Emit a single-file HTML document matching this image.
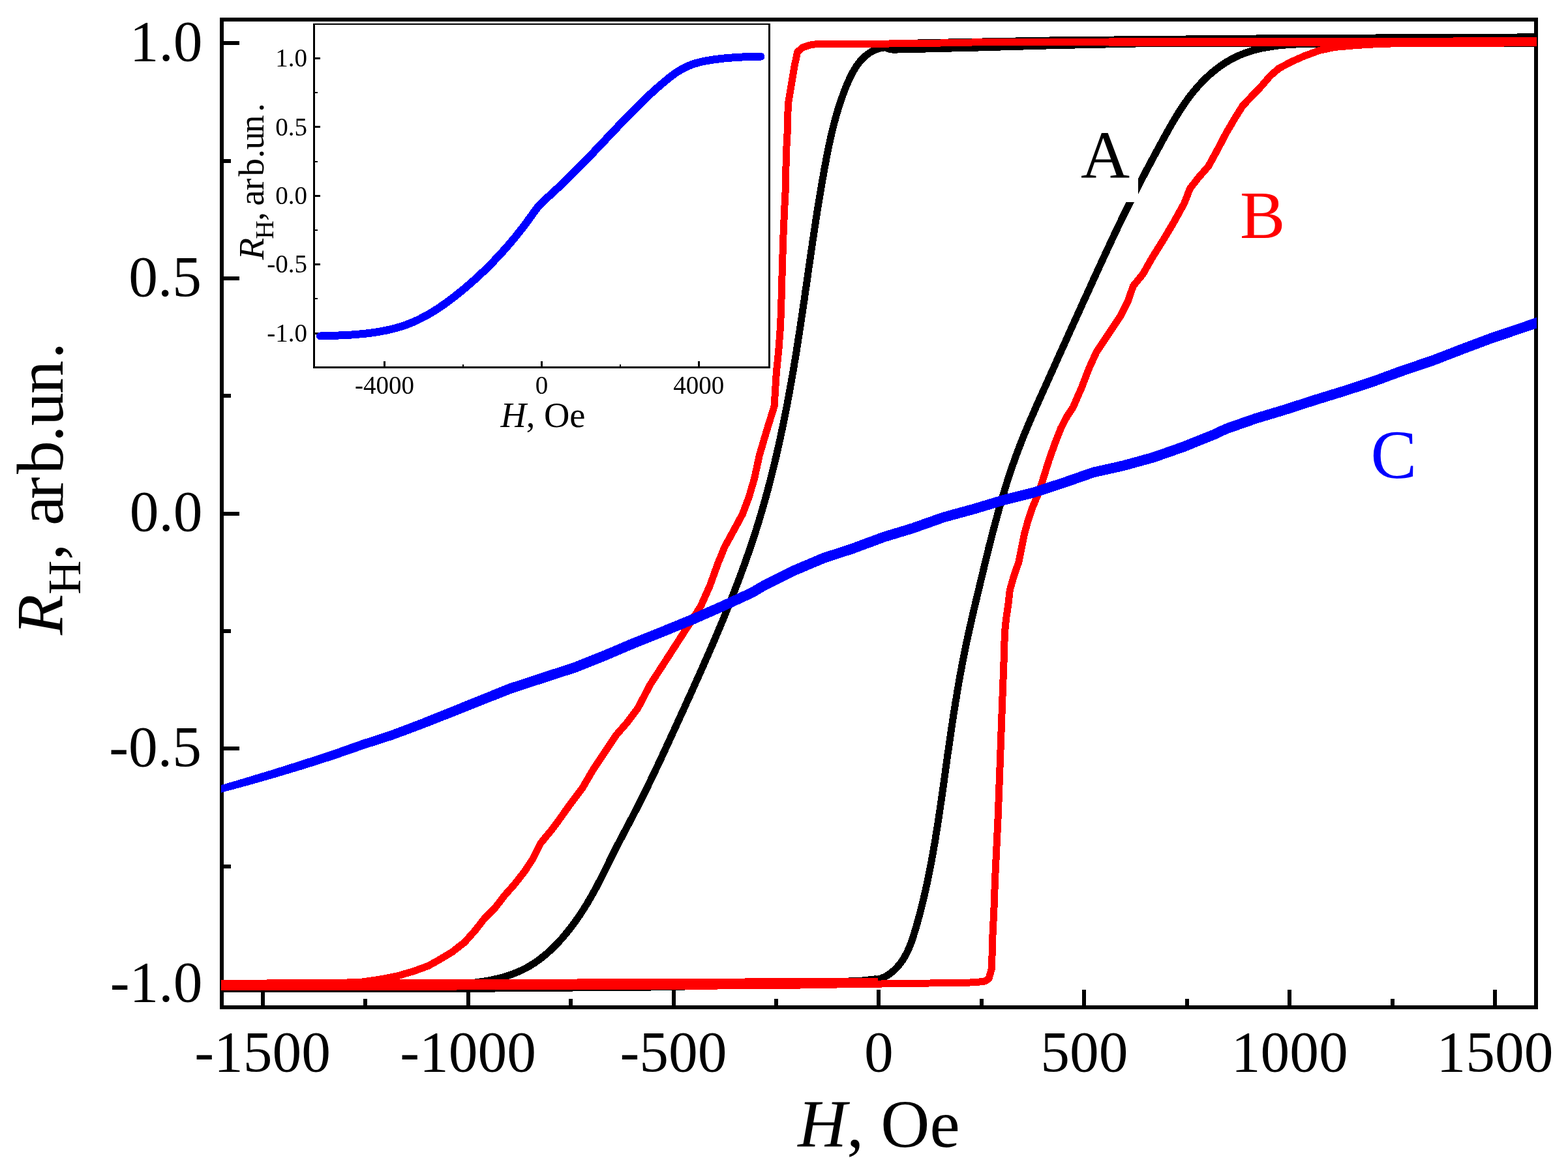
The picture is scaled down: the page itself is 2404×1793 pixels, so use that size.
<!DOCTYPE html>
<html lang="en"><head><meta charset="utf-8"><title>Hall resistance hysteresis loops</title>
<style>html,body{margin:0;padding:0;background:#fff}body{width:2404px;height:1793px;overflow:hidden}svg{display:block}text{font-family:"Liberation Serif","Times New Roman",serif;fill:#000}.i{font-style:italic}</style></head><body>
<svg width="2404" height="1793" viewBox="0 0 2404 1793">
<rect width="2404" height="1793" fill="#fff"/>
<defs><clipPath id="c"><rect x="339" y="30" width="2017" height="1515"/></clipPath></defs>
<g stroke="#000" stroke-width="6" fill="none" shape-rendering="crispEdges">
<rect x="340" y="30" width="2015" height="1515"/>
<line x1="402.7" y1="1545" x2="402.7" y2="1518"/>
<line x1="560.2" y1="1545" x2="560.2" y2="1531.5"/>
<line x1="717.6" y1="1545" x2="717.6" y2="1518"/>
<line x1="875.1" y1="1545" x2="875.1" y2="1531.5"/>
<line x1="1032.5" y1="1545" x2="1032.5" y2="1518"/>
<line x1="1190.0" y1="1545" x2="1190.0" y2="1531.5"/>
<line x1="1347.4" y1="1545" x2="1347.4" y2="1518"/>
<line x1="1504.9" y1="1545" x2="1504.9" y2="1531.5"/>
<line x1="1662.3" y1="1545" x2="1662.3" y2="1518"/>
<line x1="1819.8" y1="1545" x2="1819.8" y2="1531.5"/>
<line x1="1977.2" y1="1545" x2="1977.2" y2="1518"/>
<line x1="2134.7" y1="1545" x2="2134.7" y2="1531.5"/>
<line x1="2292.1" y1="1545" x2="2292.1" y2="1518"/>
<line x1="340" y1="1508.9" x2="367" y2="1508.9"/>
<line x1="340" y1="1328.5" x2="353.5" y2="1328.5"/>
<line x1="340" y1="1148.2" x2="367" y2="1148.2"/>
<line x1="340" y1="967.9" x2="353.5" y2="967.9"/>
<line x1="340" y1="787.5" x2="367" y2="787.5"/>
<line x1="340" y1="607.1" x2="353.5" y2="607.1"/>
<line x1="340" y1="426.8" x2="367" y2="426.8"/>
<line x1="340" y1="246.5" x2="353.5" y2="246.5"/>
<line x1="340" y1="66.1" x2="367" y2="66.1"/>
</g>
<g font-size="89.5">
<text x="402.7" y="1643" text-anchor="middle">-1500</text>
<text x="717.6" y="1643" text-anchor="middle">-1000</text>
<text x="1032.5" y="1643" text-anchor="middle">-500</text>
<text x="1347.4" y="1643" text-anchor="middle">0</text>
<text x="1662.3" y="1643" text-anchor="middle">500</text>
<text x="1977.2" y="1643" text-anchor="middle">1000</text>
<text x="2292.1" y="1643" text-anchor="middle">1500</text>
<text x="310.5" y="92.9" text-anchor="end">1.0</text>
<text x="309" y="453.6" text-anchor="end">0.5</text>
<text x="310.5" y="814.3" text-anchor="end">0.0</text>
<text x="309" y="1175.0" text-anchor="end">-0.5</text>
<text x="310.5" y="1535.7" text-anchor="end">-1.0</text>
</g>
<text x="1347.4" y="1758.8" font-size="104" text-anchor="middle"><tspan class="i">H</tspan>, Oe</text>
<text transform="translate(95.7 0) rotate(-90)" font-size="102"><tspan class="i" x="-973.9" y="0">R</tspan><tspan font-size="72" x="-911.7" y="27.5">H</tspan><tspan x="-859.0 -833.0 -806.0 -765.4 -727.0 -677.9 -653.0 -604.1 -550.5" y="0">, arb.un.</tspan></text>
<g clip-path="url(#c)" fill="none" stroke-linejoin="round" shape-rendering="crispEdges">
<g stroke="#000" stroke-width="11">
<polyline points="1385.0,68.0 1408.0,65.9 1620.0,61.8 1840.0,59.8 1960.0,58.7 2370.0,56.8"/>
<polyline points="2034.0,66.0 1840.0,66.0 1746.0,66.9 1611.0,69.8 1500.0,73.0 1475.0,73.6 1400.0,75.5 1380.0,75.8 1370.7,76.3 1361.6,74.9 1358.0,72.6 1352.5,73.5"/>
<polyline points="1358.5,72.1 1352.8,73.1 1347.5,74.5 1342.6,76.2 1337.9,78.3 1333.6,80.8 1329.6,83.6 1325.9,86.6 1322.4,89.9 1319.1,93.5 1316.1,97.3 1313.2,101.2 1310.6,105.4 1308.1,109.6 1305.7,114.1 1303.5,118.6 1301.4,123.1 1299.3,127.8 1297.4,132.4 1295.5,137.1 1293.7,141.8 1292.0,146.6 1290.3,151.3 1288.6,156.1 1287.1,160.8 1285.5,165.6 1284.1,170.4 1282.7,175.3 1281.3,180.1 1280.0,184.9 1278.7,189.8 1277.4,194.7 1276.2,199.6 1275.1,204.5 1273.9,209.4 1272.8,214.3 1271.8,219.2 1270.7,224.1 1269.7,229.1 1268.7,234.0 1267.8,238.9 1266.8,243.9 1265.9,248.8 1264.9,253.8 1264.0,258.7 1263.1,263.7 1262.3,268.7 1261.4,273.6 1260.5,278.6 1259.7,283.5 1258.8,288.5 1258.0,293.4 1257.2,298.4 1256.3,303.4 1255.5,308.3 1254.7,313.3 1253.9,318.2 1253.1,323.2 1252.4,328.2 1251.6,333.1 1250.8,338.1 1250.1,343.0 1249.3,348.0 1248.6,353.0 1247.8,357.9 1247.1,362.9 1246.3,367.9 1245.6,372.8 1244.9,377.8 1244.1,382.8 1243.4,387.7 1242.7,392.7 1242.0,397.7 1241.3,402.6 1240.5,407.6 1239.8,412.6 1239.1,417.5 1238.4,422.5 1237.7,427.5 1237.0,432.4 1236.3,437.4 1235.5,442.4 1234.8,447.3 1234.1,452.3 1233.4,457.3 1232.7,462.3 1231.9,467.2 1231.2,472.2 1230.5,477.2 1229.8,482.1 1229.0,487.1 1228.3,492.1 1227.5,497.0 1226.8,502.0 1226.0,507.0 1225.3,511.9 1224.5,516.9 1223.7,521.8 1223.0,526.8 1222.2,531.8 1221.4,536.7 1220.6,541.7 1219.8,546.7 1219.0,551.6 1218.1,556.6 1217.3,561.5 1216.5,566.5 1215.6,571.5 1214.8,576.4 1213.9,581.4 1213.0,586.3 1212.1,591.3 1211.3,596.2 1210.4,601.2 1209.4,606.1 1208.5,611.1 1207.6,616.0 1206.7,620.9 1205.7,625.9 1204.7,630.8 1203.8,635.8 1202.8,640.7 1201.8,645.6 1200.8,650.5 1199.8,655.5 1198.7,660.4 1197.7,665.3 1196.7,670.2 1195.6,675.1 1194.5,680.0 1193.4,684.9 1192.3,689.8 1191.2,694.7 1190.1,699.6 1188.9,704.5 1187.8,709.4 1186.6,714.3 1185.4,719.2 1184.2,724.0 1183.0,728.9 1181.7,733.8 1180.5,738.6 1179.2,743.5 1177.9,748.3 1176.7,753.2 1175.3,758.0 1174.0,762.9 1172.7,767.7 1171.3,772.5 1169.9,777.4 1168.5,782.2 1167.1,787.0 1165.7,791.8 1164.3,796.6 1162.8,801.4 1161.3,806.2 1159.8,811.0 1158.3,815.8 1156.8,820.6 1155.2,825.3 1153.6,830.1 1152.0,834.9 1150.4,839.6 1148.8,844.4 1147.2,849.1 1145.5,853.9 1143.9,858.6 1142.2,863.3 1140.5,868.1 1138.8,872.8 1137.0,877.5 1135.3,882.2 1133.5,886.9 1131.8,891.6 1130.0,896.3 1128.2,901.0 1126.4,905.7 1124.6,910.4 1122.7,915.1 1120.9,919.7 1119.0,924.4 1117.2,929.1 1115.3,933.7 1113.4,938.4 1111.5,943.1 1109.6,947.7 1107.7,952.4 1105.7,957.0 1103.8,961.7 1101.8,966.3 1099.9,970.9 1097.9,975.6 1096.0,980.2 1094.0,984.8 1092.0,989.5 1090.0,994.1 1088.0,998.7 1086.0,1003.3 1084.0,1007.9 1081.9,1012.5 1079.9,1017.1 1077.9,1021.8 1075.8,1026.4 1073.8,1031.0 1071.7,1035.6 1069.7,1040.1 1067.6,1044.7 1065.6,1049.3 1063.5,1053.9 1061.4,1058.5 1059.4,1063.1 1057.3,1067.7 1055.2,1072.3 1053.1,1076.8 1051.1,1081.4 1049.0,1086.0 1046.9,1090.6 1044.8,1095.1 1042.7,1099.7 1040.6,1104.3 1038.6,1108.8 1036.5,1113.4 1034.4,1118.0 1032.3,1122.5 1030.2,1127.1 1028.1,1131.7 1026.0,1136.2 1023.9,1140.8 1021.8,1145.3 1019.7,1149.9 1017.6,1154.4 1015.5,1159.0 1013.4,1163.5 1011.2,1168.0 1009.1,1172.6 1007.0,1177.1 1004.8,1181.6 1002.7,1186.2 1000.5,1190.7 998.3,1195.2 996.2,1199.7 994.0,1204.2 991.8,1208.7 989.6,1213.3 987.3,1217.8 985.1,1222.2 982.9,1226.7 980.6,1231.2 978.4,1235.7 976.1,1240.2 973.8,1244.6 971.5,1249.1 969.2,1253.6 966.8,1258.0 964.5,1262.5 962.1,1266.9 959.8,1271.4 957.5,1275.8 955.1,1280.3 952.8,1284.7 950.4,1289.2 948.1,1293.6 945.8,1298.1 943.5,1302.6 941.3,1307.1 939.0,1311.6 936.8,1316.1 934.6,1320.6 932.4,1325.1 930.2,1329.6 928.0,1334.1 925.8,1338.6 923.5,1343.1 921.2,1347.6 918.9,1352.0 916.6,1356.5 914.3,1360.9 911.9,1365.3 909.4,1369.7 907.0,1374.1 904.5,1378.5 901.9,1382.8 899.4,1387.1 896.7,1391.4 894.1,1395.6 891.3,1399.8 888.6,1404.0 885.7,1408.2 882.9,1412.3 879.9,1416.4 876.9,1420.4 873.9,1424.4 870.7,1428.3 867.5,1432.3 864.3,1436.1 861.0,1439.9 857.6,1443.7 854.1,1447.4 850.6,1451.0 847.0,1454.6 843.3,1458.1 839.5,1461.5 835.7,1464.8 831.8,1467.9 827.8,1471.0 823.8,1474.0 819.7,1476.8 815.5,1479.5 811.2,1482.1 806.9,1484.5 802.5,1486.8 798.0,1488.9 793.5,1490.9 788.9,1492.8 784.2,1494.5 779.5,1496.2 774.8,1497.7 770.0,1499.1 765.1,1500.3 760.2,1501.5 755.3,1502.6 750.4,1503.6 745.4,1504.5 740.4,1505.3 735.4,1506.1 730.3,1506.8 725.3,1507.4 720.2,1507.9 715.1,1508.4 710.0,1508.8 705.0,1509.2 699.9,1509.6 694.8,1509.9 689.8,1510.2 684.7,1510.4 679.7,1510.7 674.7,1510.9 669.7,1511.1 664.8,1511.3 659.9,1511.5 655.0,1511.7 650.1,1511.9"/>
<polyline points="650.0,1512.0 560.0,1515.0 325.0,1517.0 700.0,1516.5 1000.0,1514.0 1200.0,1510.0 1322.0,1504.0 1345.0,1501.5"/>
<polyline points="1335.0,1502.4 1340.0,1502.7 1344.9,1502.2 1349.7,1501.0 1354.4,1499.2 1358.9,1497.0 1363.2,1494.2 1367.4,1491.2 1371.2,1487.8 1374.8,1484.2 1378.2,1480.4 1381.2,1476.5 1384.0,1472.4 1386.6,1468.2 1389.0,1463.9 1391.2,1459.5 1393.3,1455.0 1395.2,1450.4 1397.0,1445.7 1398.6,1441.0 1400.2,1436.2 1401.7,1431.4 1403.2,1426.6 1404.6,1421.8 1406.0,1416.9 1407.3,1412.1 1408.7,1407.2 1410.0,1402.4 1411.2,1397.5 1412.5,1392.7 1413.7,1387.8 1414.9,1382.9 1416.1,1378.1 1417.2,1373.2 1418.3,1368.3 1419.4,1363.4 1420.5,1358.5 1421.6,1353.6 1422.6,1348.7 1423.6,1343.8 1424.6,1338.9 1425.6,1334.0 1426.6,1329.1 1427.5,1324.1 1428.4,1319.2 1429.3,1314.3 1430.2,1309.4 1431.1,1304.4 1431.9,1299.5 1432.8,1294.6 1433.6,1289.6 1434.4,1284.7 1435.2,1279.7 1436.0,1274.8 1436.8,1269.8 1437.6,1264.9 1438.3,1259.9 1439.1,1254.9 1439.8,1250.0 1440.6,1245.0 1441.3,1240.1 1442.0,1235.1 1442.8,1230.1 1443.5,1225.2 1444.2,1220.2 1444.9,1215.2 1445.6,1210.3 1446.3,1205.3 1447.0,1200.3 1447.7,1195.3 1448.4,1190.4 1449.1,1185.4 1449.8,1180.4 1450.4,1175.5 1451.1,1170.5 1451.8,1165.5 1452.5,1160.5 1453.2,1155.6 1454.0,1150.6 1454.7,1145.6 1455.4,1140.7 1456.1,1135.7 1456.8,1130.7 1457.5,1125.7 1458.3,1120.8 1459.0,1115.8 1459.7,1110.9 1460.5,1105.9 1461.2,1100.9 1462.0,1096.0 1462.8,1091.0 1463.6,1086.1 1464.3,1081.1 1465.1,1076.2 1466.0,1071.2 1466.8,1066.3 1467.6,1061.3 1468.4,1056.4 1469.3,1051.4 1470.1,1046.5 1471.0,1041.6 1471.9,1036.6 1472.8,1031.7 1473.7,1026.8 1474.6,1021.8 1475.5,1016.9 1476.5,1012.0 1477.5,1007.1 1478.4,1002.2 1479.4,997.3 1480.5,992.4 1481.5,987.5 1482.5,982.6 1483.6,977.7 1484.6,972.8 1485.7,967.9 1486.8,963.0 1487.9,958.1 1489.0,953.2 1490.1,948.4 1491.2,943.5 1492.4,938.6 1493.5,933.7 1494.7,928.8 1495.8,924.0 1497.0,919.1 1498.1,914.2 1499.3,909.3 1500.5,904.5 1501.6,899.6 1502.8,894.7 1504.0,889.8 1505.1,884.9 1506.3,880.1 1507.5,875.2 1508.7,870.3 1509.8,865.4 1511.0,860.5 1512.2,855.7 1513.4,850.8 1514.6,845.9 1515.8,841.0 1517.0,836.2 1518.3,831.3 1519.5,826.4 1520.8,821.5 1522.0,816.7 1523.3,811.8 1524.6,807.0 1525.9,802.1 1527.2,797.3 1528.5,792.4 1529.8,787.6 1531.1,782.8 1532.5,777.9 1533.9,773.1 1535.3,768.3 1536.7,763.5 1538.1,758.7 1539.6,753.9 1541.0,749.1 1542.5,744.3 1544.0,739.5 1545.5,734.7 1547.1,730.0 1548.7,725.2 1550.3,720.5 1551.9,715.7 1553.5,711.0 1555.2,706.3 1556.9,701.5 1558.6,696.8 1560.3,692.1 1562.1,687.5 1563.9,682.8 1565.7,678.1 1567.6,673.5 1569.4,668.8 1571.3,664.2 1573.2,659.6 1575.2,654.9 1577.1,650.3 1579.1,645.7 1581.1,641.1 1583.1,636.5 1585.1,631.9 1587.1,627.3 1589.1,622.7 1591.2,618.1 1593.2,613.5 1595.2,609.0 1597.3,604.4 1599.3,599.8 1601.4,595.2 1603.5,590.7 1605.5,586.1 1607.6,581.5 1609.6,576.9 1611.7,572.4 1613.7,567.8 1615.8,563.2 1617.8,558.7 1619.9,554.1 1621.9,549.5 1624.0,544.9 1626.0,540.4 1628.1,535.8 1630.2,531.2 1632.2,526.7 1634.3,522.1 1636.3,517.5 1638.4,513.0 1640.4,508.4 1642.5,503.8 1644.6,499.2 1646.6,494.7 1648.7,490.1 1650.8,485.5 1652.8,481.0 1654.9,476.4 1657.0,471.8 1659.0,467.3 1661.1,462.7 1663.2,458.1 1665.3,453.6 1667.3,449.0 1669.4,444.5 1671.5,439.9 1673.6,435.3 1675.6,430.8 1677.7,426.2 1679.8,421.6 1681.9,417.1 1684.0,412.5 1686.1,407.9 1688.2,403.4 1690.3,398.8 1692.4,394.3 1694.5,389.7 1696.6,385.1 1698.7,380.6 1700.9,376.0 1703.0,371.5 1705.1,366.9 1707.3,362.4 1709.4,357.9 1711.6,353.3 1713.7,348.8 1715.9,344.3 1718.1,339.8 1720.2,335.2 1722.4,330.7 1724.6,326.2 1726.8,321.7 1729.1,317.3 1731.3,312.8 1733.5,308.3 1735.8,303.8 1738.0,299.4 1740.3,294.9 1742.6,290.4 1744.8,286.0 1747.1,281.5 1749.4,277.1 1751.7,272.7 1754.1,268.2 1756.4,263.8 1758.7,259.4 1761.1,255.0 1763.4,250.5 1765.8,246.1 1768.1,241.7 1770.5,237.3 1772.9,232.9 1775.3,228.5 1777.7,224.1 1780.1,219.7 1782.5,215.2 1784.9,210.8 1787.3,206.4 1789.8,202.0 1792.2,197.6 1794.7,193.3 1797.2,188.9 1799.8,184.6 1802.3,180.3 1805.0,176.0 1807.6,171.7 1810.3,167.5 1813.1,163.3 1815.9,159.1 1818.8,155.0 1821.7,151.0 1824.7,147.0 1827.8,143.0 1831.0,139.1 1834.2,135.3 1837.6,131.5 1841.0,127.8 1844.5,124.1 1848.1,120.6 1851.7,117.1 1855.5,113.7 1859.3,110.5 1863.2,107.3 1867.1,104.2 1871.2,101.3 1875.3,98.5 1879.4,95.8 1883.7,93.2 1888.0,90.8 1892.4,88.5 1896.8,86.3 1901.3,84.3 1905.9,82.5 1910.5,80.8 1915.2,79.2 1920.0,77.8 1924.7,76.4 1929.6,75.2 1934.4,74.1 1939.3,73.2 1944.3,72.3 1949.3,71.5 1954.3,70.8 1959.3,70.1 1964.3,69.6 1969.4,69.1 1974.5,68.7 1979.6,68.4 1984.7,68.1 1989.8,67.9 1995.0,67.7 2000.1,67.5 2005.2,67.4 2010.3,67.3 2015.4,67.3 2020.5,67.2 2025.6,67.2 2030.7,67.2 2035.7,67.2 2040.8,67.2 2045.7,67.1 2050.7,67.1 2055.6,67.0 2060.5,66.9 2065.4,66.8 2070.2,66.7 2074.9,66.5 2079.7,66.2"/>
<polyline points="2080.0,66.5 2200.0,66.5 2370.0,66.0"/>
</g>
<rect x="1650" y="195" width="95" height="115.3" fill="#fff" stroke="none"/>
<g stroke="#f00" stroke-width="11">
<polyline points="2370.0,62.5 2120.0,63.4 1840.0,63.5 1620.0,64.3 1500.0,64.8 1408.7,66.7 1336.0,67.2 1263.4,67.6 1245.3,68.1 1230.7,72.7 1222.6,79.9 1218.0,101.7 1213.5,128.9 1208.9,156.2 1207.3,183.4 1207.3,200.0 1205.3,237.9 1204.4,290.0 1203.7,300.0 1201.2,354.5 1199.4,408.9 1197.9,463.4 1196.6,499.7 1193.9,536.0 1190.3,572.0 1188.5,600.0 1187.1,623.0 1175.8,659.4 1164.4,698.0 1156.5,734.3 1148.5,761.6 1138.3,788.8 1123.6,816.0 1111.1,838.7 1100.9,863.7 1088.3,898.5 1074.5,929.5 1058.6,954.5 1042.5,979.4 1020.5,1013.5 997.0,1049.8 978.0,1086.1 961.0,1108.8 945.1,1127.0 927.0,1154.2 908.8,1181.4 892.9,1208.7 872.5,1235.9 859.0,1255.0 847.4,1270.8 828.7,1293.6 816.2,1318.5 803.8,1337.2 789.2,1355.9 772.6,1374.6 760.1,1391.2 743.5,1407.8 729.0,1426.5 712.4,1445.2 693.7,1459.8 675.0,1471.2 656.3,1481.6 633.5,1489.9 608.5,1497.1 581.5,1502.3 552.5,1506.5 500.0,1507.8 325.0,1508.2"/>
<polyline points="325.0,1508.2 700.0,1507.8 1000.0,1506.5 1200.0,1505.8 1346.0,1505.6"/>
<polyline points="325.0,1513.5 700.0,1513.0 1100.0,1512.0 1200.0,1511.5 1300.0,1509.7 1346.0,1509.5 1356.0,1508.6 1425.7,1508.0 1493.5,1506.9 1510.0,1505.0 1516.0,1501.2 1520.5,1485.4 1521.7,1440.3 1523.9,1395.1 1525.5,1350.0 1530.1,1254.2 1533.3,1169.5 1536.4,1084.7 1539.6,1000.0 1540.3,971.9 1542.6,948.9 1546.0,925.9 1548.3,905.2 1554.1,884.5 1562.1,861.5 1566.7,838.5 1570.2,820.1 1575.9,799.4 1582.8,778.7 1593.5,753.4 1601.3,728.1 1608.5,705.1 1617.5,679.8 1626.5,656.8 1636.0,638.4 1645.0,625.0 1658.1,595.0 1669.6,565.1 1681.1,539.8 1699.5,512.2 1717.9,484.6 1729.4,461.6 1737.4,438.6 1752.4,420.2 1766.0,396.0 1782.5,369.6 1799.0,342.0 1815.5,312.1 1824.5,289.1 1837.0,273.0 1853.0,254.6 1868.0,227.0 1880.0,204.0 1893.5,181.0 1905.0,162.6 1918.0,148.8 1933.5,132.7 1947.3,116.6 1960.5,105.1 1978.8,95.2 1999.5,86.0 2022.5,77.5 2045.5,72.5 2080.0,69.5 2120.0,67.1 2200.0,66.5 2370.0,65.7"/>
<polyline points="1700.0,66.0 1840.0,65.2 2000.0,65.5 2120.0,66.5"/>
</g>
<g stroke="#00f">
<polyline stroke-width="11" points="325.0,1214.1 339.0,1209.9 374.9,1199.3 420.0,1185.6 465.0,1171.4 510.1,1156.7 555.2,1140.7 600.3,1125.9 645.4,1108.9 690.5,1090.7 735.6,1072.5 780.7,1054.2 835.4,1036.2 880.8,1021.5 926.2,1003.3 971.6,984.0 1016.9,965.9 1062.3,947.3 1107.7,927.3 1153.1,906.3 1171.6,895.3 1216.9,872.8 1262.3,853.6 1307.7,838.8 1353.1,821.8 1399.2,807.8 1445.2,791.4 1491.2,778.8 1537.2,765.0 1583.2,753.5 1629.2,738.5 1675.2,722.4 1721.2,712.1 1767.2,699.4 1813.2,683.3 1859.2,664.8 1879.2,655.5 1924.3,639.7 1969.5,626.1 2014.6,611.5 2059.8,597.6 2104.9,582.8 2150.1,566.2 2195.2,551.0 2240.4,533.5 2285.5,516.6 2330.7,501.3 2355.5,492.9 2369.2,488.3"/>
<polyline stroke-width="11" points="325.0,1214.3 339.0,1210.1 375.3,1200.3 420.6,1187.4 465.8,1173.8 511.1,1159.3 556.2,1143.7 601.5,1129.1 646.6,1112.3 691.9,1094.5 737.0,1076.5 782.3,1058.6 837.0,1040.6 882.4,1025.9 927.8,1007.7 973.2,988.4 1018.5,970.3 1063.9,951.7 1109.3,931.7 1154.7,910.7 1173.2,899.7 1218.5,877.2 1263.9,858.0 1309.3,843.2 1354.7,826.2 1400.8,812.2 1446.8,795.8 1492.8,783.2 1538.8,769.4 1584.8,757.9 1630.8,742.9 1676.8,726.8 1722.8,716.5 1768.8,703.8 1814.8,687.7 1860.8,669.2 1880.8,659.9 1925.9,644.1 1971.1,630.5 2016.2,615.9 2061.4,602.0 2106.5,587.2 2151.7,570.6 2196.8,555.4 2242.0,537.9 2287.1,521.0 2332.3,505.7 2357.1,497.3 2370.8,492.7"/>
</g>
</g>
<g font-size="104">
<text x="1657" y="273.3">A</text>
<text x="1901" y="364.8" style="fill:#f00">B</text>
<text x="2101.4" y="733.4" font-size="106" style="fill:#00f">C</text>
</g>
<g fill="#000" shape-rendering="crispEdges">
<rect x="480" y="36" width="701" height="529" fill="#fff"/>
<rect x="480" y="36" width="3" height="529"/>
<rect x="1178" y="36" width="3" height="529"/>
<rect x="480" y="36" width="701" height="2"/>
<rect x="480" y="562" width="701" height="3"/>
<rect x="588" y="554" width="3" height="8"/>
<rect x="709" y="559" width="2" height="3"/>
<rect x="829" y="554" width="3" height="8"/>
<rect x="950" y="559" width="2" height="3"/>
<rect x="1070" y="554" width="3" height="8"/>
<rect x="483" y="510" width="8" height="3"/>
<rect x="483" y="457" width="4" height="2"/>
<rect x="483" y="404" width="8" height="3"/>
<rect x="483" y="352" width="4" height="2"/>
<rect x="483" y="299" width="8" height="3"/>
<rect x="483" y="247" width="4" height="2"/>
<rect x="483" y="193" width="8" height="3"/>
<rect x="483" y="141" width="4" height="2"/>
<rect x="483" y="88" width="8" height="3"/>
</g>
<g font-size="39">
<text x="589.5" y="604" text-anchor="middle">-4000</text>
<text x="830.4" y="604" text-anchor="middle">0</text>
<text x="1071.3" y="604" text-anchor="middle">4000</text>
<text x="471.1" y="102.0" text-anchor="end">1.0</text>
<text x="471.1" y="207.5" text-anchor="end">0.5</text>
<text x="471.1" y="312.9" text-anchor="end">0.0</text>
<text x="471.1" y="418.4" text-anchor="end">-0.5</text>
<text x="471.1" y="523.8" text-anchor="end">-1.0</text>
</g>
<text x="832.5" y="655.4" font-size="54.5" text-anchor="middle"><tspan class="i">H</tspan>, Oe</text>
<text transform="translate(404.1 0) rotate(-90)" font-size="55"><tspan class="i" x="-398.5" y="0">R</tspan><tspan font-size="39.5" x="-366.8" y="15">H</tspan><tspan x="-338.7 -325.0 -315.7 -292.0 -270.5 -242.6 -229.4 -204.1 -171.7" y="0">, arb.un.</tspan></text>
<polyline points="491.0,515.5 494.9,515.3 498.9,515.2 502.8,515.1 506.8,515.0 510.8,514.8 514.8,514.7 518.8,514.5 522.9,514.3 526.9,514.2 530.9,513.9 535.0,513.7 539.0,513.5 543.1,513.2 547.2,512.9 551.2,512.5 555.3,512.1 559.3,511.7 563.4,511.3 567.4,510.8 571.4,510.3 575.4,509.7 579.5,509.0 583.4,508.4 587.4,507.6 591.4,506.9 595.3,506.0 599.3,505.1 603.2,504.1 607.1,503.1 610.9,502.0 614.7,500.8 618.6,499.6 622.3,498.3 626.1,496.9 629.8,495.4 633.5,493.9 637.1,492.3 640.8,490.6 644.4,488.8 647.9,487.0 651.5,485.1 655.0,483.2 658.5,481.2 661.9,479.1 665.4,477.0 668.8,474.9 672.2,472.7 675.5,470.4 678.9,468.1 682.2,465.8 685.5,463.5 688.7,461.0 692.0,458.6 695.2,456.1 698.4,453.7 701.5,451.1 704.7,448.6 707.8,446.0 710.9,443.5 714.0,440.9 717.1,438.2 720.2,435.6 723.2,432.9 726.2,430.3 729.2,427.6 732.2,424.8 735.1,422.1 738.0,419.4 741.0,416.6 743.8,413.8 746.7,411.0 749.6,408.1 752.4,405.3 755.2,402.4 758.0,399.5 760.8,396.6 763.5,393.7 766.3,390.8 769.0,387.8 771.7,384.8 774.4,381.8 777.0,378.8 779.7,375.7 782.3,372.7 784.9,369.6 787.5,366.5 790.1,363.4 792.6,360.2 795.1,357.1 797.6,353.9 800.1,350.7 802.6,347.5 805.0,344.3 807.4,341.1 809.8,337.8 812.1,334.5 814.5,331.3 816.8,328.0 819.1,324.8 821.5,321.6 824.0,318.4 826.6,315.4 829.3,312.5 832.1,309.7 835.0,306.9 838.0,304.2 841.0,301.5 843.9,298.8 846.9,296.1 849.9,293.4 852.8,290.6 855.7,287.9 858.7,285.1 861.6,282.3 864.5,279.6 867.4,276.8 870.3,273.9 873.1,271.1 876.0,268.3 878.9,265.4 881.7,262.6 884.5,259.7 887.4,256.9 890.2,254.0 893.0,251.1 895.9,248.2 898.7,245.3 901.5,242.5 904.3,239.5 907.1,236.6 909.9,233.7 912.6,230.8 915.4,227.9 918.2,225.0 921.0,222.0 923.7,219.1 926.5,216.2 929.3,213.2 932.1,210.3 934.8,207.4 937.6,204.4 940.3,201.5 943.1,198.6 945.9,195.7 948.7,192.7 951.4,189.8 954.2,186.9 957.0,184.0 959.8,181.1 962.6,178.2 965.4,175.3 968.2,172.4 971.1,169.6 973.9,166.7 976.7,163.9 979.6,161.0 982.5,158.2 985.4,155.4 988.3,152.6 991.2,149.8 994.1,147.1 997.1,144.3 1000.0,141.6 1003.0,138.9 1006.0,136.2 1009.1,133.5 1012.1,130.9 1015.2,128.3 1018.3,125.6 1021.4,123.1 1024.5,120.5 1027.7,118.0 1030.9,115.6 1034.2,113.2 1037.5,110.9 1040.8,108.8 1044.3,106.7 1047.8,104.7 1051.3,102.9 1055.0,101.3 1058.7,99.8 1062.5,98.4 1066.3,97.2 1070.2,96.1 1074.1,95.1 1078.1,94.2 1082.1,93.4 1086.1,92.7 1090.1,92.0 1094.1,91.4 1098.1,90.9 1102.1,90.4 1106.1,89.9 1110.1,89.5 1114.1,89.1 1118.1,88.8 1122.2,88.5 1126.2,88.2 1130.2,88.0 1134.2,87.7 1138.2,87.5 1142.2,87.4 1146.2,87.2 1150.2,87.1 1154.3,86.9 1158.3,86.8 1162.4,86.7 1166.4,86.6" fill="none" stroke="#00f" stroke-width="12" stroke-linecap="round" stroke-linejoin="round" shape-rendering="crispEdges"/>
</svg></body></html>
